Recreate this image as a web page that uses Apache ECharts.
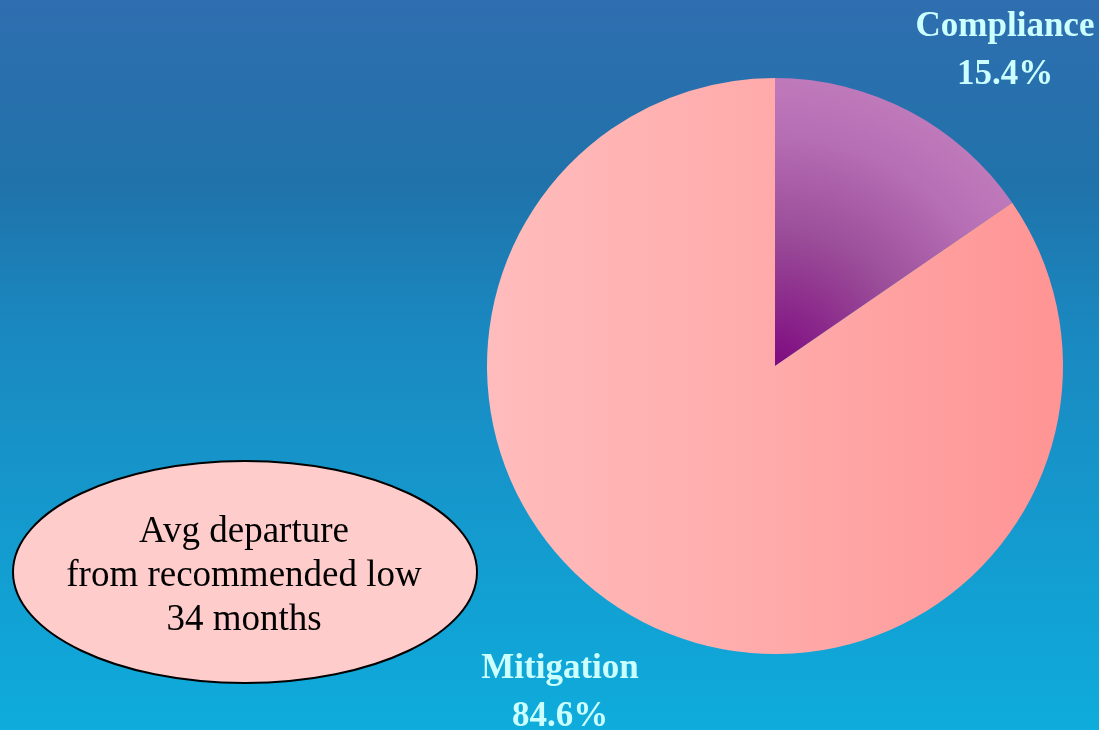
<!DOCTYPE html>
<html>
<head>
<meta charset="utf-8">
<script src="https://cdn.jsdelivr.net/npm/echarts@6/dist/echarts.min.js"></script>
<style>
html,body{margin:0;padding:0;width:1099px;height:730px;overflow:hidden;}
#chart{width:1099px;height:730px;}
</style>
</head>
<body>
<div id="chart"></div>
<script>
const categories = ['Compliance', 'Mitigation'];
const shares = [15.4, 84.6];
const noteLines = ['Avg departure', 'from recommended low', '34 months'];

const labelSpots = {
  Compliance: [1005, 51],
  Mitigation: [560, 693]
};

const fills = [
  {
    type: 'radial', x: 0, y: 1, r: 1.22,
    colorStops: [
      { offset: 0, color: '#7e0a80' },
      { offset: 0.45, color: '#9a4c98' },
      { offset: 0.8, color: '#b66eb4' },
      { offset: 1, color: '#bf7abb' }
    ]
  },
  {
    type: 'linear', x: 0, y: 0, x2: 1, y2: 0,
    colorStops: [
      { offset: 0, color: '#ffbcbc' },
      { offset: 0.5, color: '#ffaaaa' },
      { offset: 1, color: '#ff9494' }
    ]
  }
];

const chart = echarts.init(document.getElementById('chart'));
chart.setOption({
  backgroundColor: {
    type: 'linear', x: 0, y: 0, x2: 0, y2: 1,
    colorStops: [
      { offset: 0, color: '#2f6eb0' },
      { offset: 0.25, color: '#2072aa' },
      { offset: 0.45, color: '#1a88c0' },
      { offset: 1, color: '#0eacdc' }
    ]
  },
  animation: false,
  graphic: [
    {
      type: 'ellipse',
      shape: { cx: 245, cy: 572, rx: 232, ry: 111 },
      style: { fill: '#ffcccc', stroke: '#000', lineWidth: 2 },
      z: 10
    },
    {
      type: 'text',
      x: 244, y: 576,
      style: {
        text: noteLines.join('\n'),
        fill: '#000',
        font: '37px "Liberation Serif", "Times New Roman", serif',
        lineHeight: 44,
        align: 'center',
        verticalAlign: 'middle'
      },
      z: 11
    }
  ],
  series: [{
    type: 'pie',
    center: [775, 366],
    radius: 288,
    startAngle: 90,
    clockwise: true,
    silent: true,
    data: categories.map((c, i) => ({
      name: c, value: shares[i],
      itemStyle: { color: fills[i] }
    })),
    label: {
      show: true,
      position: 'outside',
      formatter: p => p.name + '\n' + p.value + '%',
      color: '#ccffff',
      fontFamily: '"Liberation Serif", "Times New Roman", serif',
      fontWeight: 'bold',
      fontSize: 35,
      lineHeight: 48,
      align: 'center',
      overflow: 'none',
      width: 300
    },
    labelLine: { show: false },
    labelLayout: p => {
      const s = labelSpots[categories[p.dataIndex]];
      return { x: s[0], y: s[1], align: 'center', verticalAlign: 'middle', hideOverlap: false, moveOverlap: false };
    }
  }]
});
</script>
</body>
</html>
